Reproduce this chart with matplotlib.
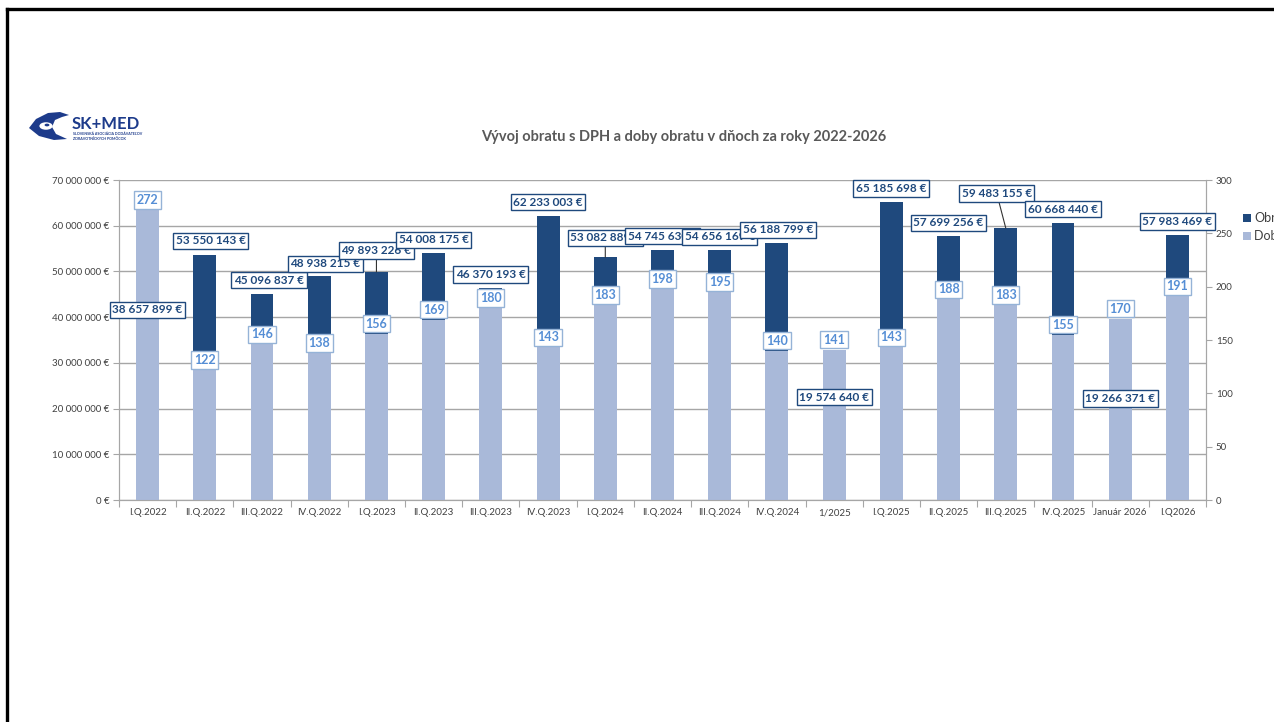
"""Vývoj obratu s DPH a doby obratu v dňoch za roky 2022-2026 (SK+MED)."""

import matplotlib

matplotlib.use("Agg")
import matplotlib.pyplot as plt
from matplotlib.lines import Line2D
from matplotlib.patches import Circle, Polygon, Rectangle

plt.rcParams["font.family"] = ["Lato", "DejaVu Sans"]

# --- data ------------------------------------------------------------------
categories = [
    "I.Q.2022", "II.Q.2022", "III.Q.2022", "IV.Q.2022",
    "I.Q.2023", "II.Q.2023", "III.Q.2023", "IV.Q.2023",
    "I.Q.2024", "II.Q.2024", "III.Q.2024", "IV.Q.2024",
    "1/2025", "I.Q.2025", "II.Q.2025", "III.Q.2025", "IV.Q.2025",
    "Január 2026", "I.Q2026",
]
obrat = [
    38657899, 53550143, 45096837, 48938215,
    49893226, 54008175, 46370193, 62233003,
    53082889, 54745630, 54656169, 56188799,
    19574640, 65185698, 57699256, 59483155, 60668440,
    19266371, 57983469,
]
doba = [272, 122, 146, 138, 156, 169, 180, 143, 183, 198, 195, 140,
        141, 143, 188, 183, 155, 170, 191]

left_ticks = list(range(0, 70_000_001, 10_000_000))
right_ticks = list(range(0, 301, 50))

DARK = "#1f497d"
LIGHT = "#a9b9d9"
LIGHT_TXT = "#558ed5"
LIGHT_EDGE = "#95b3d7"
GRID = "#a6a6a6"
TXT = "#404040"

# label offsets (pixels) where the reference moved a box by hand
label_shift = {0: (0, 8), 1: (6, 9), 2: (7, 8), 3: (6, 7), 4: (0, 16),
               8: (0, 14), 11: (1, 8), 15: (-9, 29)}
leader = {4, 8, 15}


def euro(v):
    return f"{v:,}".replace(",", " ") + " €"


fig = plt.figure(figsize=(12.74, 7.22), dpi=100)
ax = fig.add_axes([119 / 1274, 1 - 500 / 722, (1206 - 119) / 1274, 320 / 722])
ax2 = ax.twinx()

x = list(range(len(categories)))
ax.bar(x, obrat, width=0.40, color=DARK, zorder=2)
ax2.bar(x, doba, width=0.40, color=LIGHT, zorder=2)

ax.set_xlim(-0.5, len(categories) - 0.5)
ax.set_ylim(0, 70_000_000)
ax2.set_ylim(0, 300)

ax.set_yticks(left_ticks)
ax.set_yticklabels([euro(t) for t in left_ticks], fontsize=7, color=TXT)
ax2.set_yticks(right_ticks)
ax2.set_yticklabels([str(t) for t in right_ticks], fontsize=7, color=TXT)

# category labels on minor ticks, tick marks between categories
ax.set_xticks([i - 0.5 for i in range(len(categories) + 1)])
ax.set_xticklabels([])
ax.set_xticks(x, minor=True)
ax.set_xticklabels(categories, minor=True, fontsize=7, color=TXT)
ax.tick_params(axis="x", which="major", length=5, color=GRID)
ax.tick_params(axis="x", which="minor", length=0, pad=6)
ax.tick_params(axis="y", length=4, color=GRID, pad=3)
ax2.tick_params(axis="y", length=4, color=GRID, pad=3)

ax.yaxis.grid(True, color=GRID, linewidth=1)
ax.set_axisbelow(True)
for a in (ax, ax2):
    a.spines["top"].set_visible(False)
    for s in ("left", "right", "bottom"):
        a.spines[s].set_color(GRID)

# value labels (all on the front axes so they sit above both bar series)
scale = 300 / 70_000_000
for i, v in enumerate(obrat):
    dx, dy = label_shift.get(i, (0, 8))
    ax2.annotate(
        euro(v), xy=(i, v * scale), xytext=(dx, dy), textcoords="offset pixels",
        ha="center", va="bottom",
        fontsize=8.5, fontweight="bold", color=DARK, zorder=10,
        bbox=dict(boxstyle="square,pad=0.22", fc="white", ec=DARK, lw=1),
        arrowprops=dict(arrowstyle="-", color="#333333", lw=0.8,
                        shrinkA=0, shrinkB=0) if i in leader else None,
    )
for i, d in enumerate(doba):
    ax2.annotate(
        str(d), xy=(i, d), xytext=(0, 4), textcoords="offset pixels",
        ha="center", va="bottom", fontsize=9, fontweight="bold",
        color=LIGHT_TXT, zorder=9,
        bbox=dict(boxstyle="square,pad=0.22", fc="white", ec=LIGHT_EDGE, lw=1),
    )

# legend (clipped by the right edge as in the reference)
for yy, col, name in ((218, DARK, "Obrat"), (236, LIGHT, "Doba obratu")):
    fig.patches.append(Rectangle((1243 / 1274, 1 - (yy + 4) / 722), 8 / 1274, 8 / 722,
                                 transform=fig.transFigure, fc=col, ec="none"))
    fig.text(1254 / 1274, 1 - yy / 722, name, fontsize=9, color=TXT, va="center")

fig.text(684 / 1274, 1 - 137 / 722,
         "Vývoj obratu s DPH a doby obratu v dňoch za roky 2022-2026",
         ha="center", va="center", fontsize=10.5, fontweight="bold", color="#595959")

# SK+MED logo
LOGO = "#1d3b8b"
W, H = 1274, 722


def fpt(px, py):
    return (px / W, 1 - py / H)


eye = Polygon([fpt(29, 128), fpt(36, 119), fpt(48, 113), fpt(60, 112), fpt(69, 115),
               fpt(62, 117), fpt(55, 120), fpt(52, 127), fpt(56, 134), fpt(67, 139),
               fpt(54, 140), fpt(39, 136)],
              closed=True, transform=fig.transFigure, fc=LOGO, ec="none")
fig.patches.append(eye)
fig.patches.append(Circle(fpt(46, 126), 0.0052, transform=fig.transFigure, fc="white", ec="none"))
fig.patches.append(Circle(fpt(47, 125), 0.0019, transform=fig.transFigure, fc=LOGO, ec="none"))
fig.text(72 / W, 1 - 124 / H, "SK+MED", fontsize=12, fontweight="bold", color=LOGO, va="center")
fig.text(73 / W, 1 - 134 / H, "SLOVENSKÁ ASOCIÁCIA DODÁVATEĽOV", fontsize=2.6,
         fontweight="bold", color=LOGO, va="center")
fig.text(73 / W, 1 - 138.5 / H, "ZDRAVOTNÍCKYCH POMÔCOK", fontsize=2.6,
         fontweight="bold", color=LOGO, va="center")

# page frame
fig.lines.append(Line2D([7 / W, 1], [1 - 9 / H, 1 - 9 / H], transform=fig.transFigure,
                        color="black", lw=2.4))
fig.lines.append(Line2D([7 / W, 7 / W], [0, 1 - 9 / H], transform=fig.transFigure,
                        color="black", lw=2.4))

fig.savefig("out.png", dpi=100)
